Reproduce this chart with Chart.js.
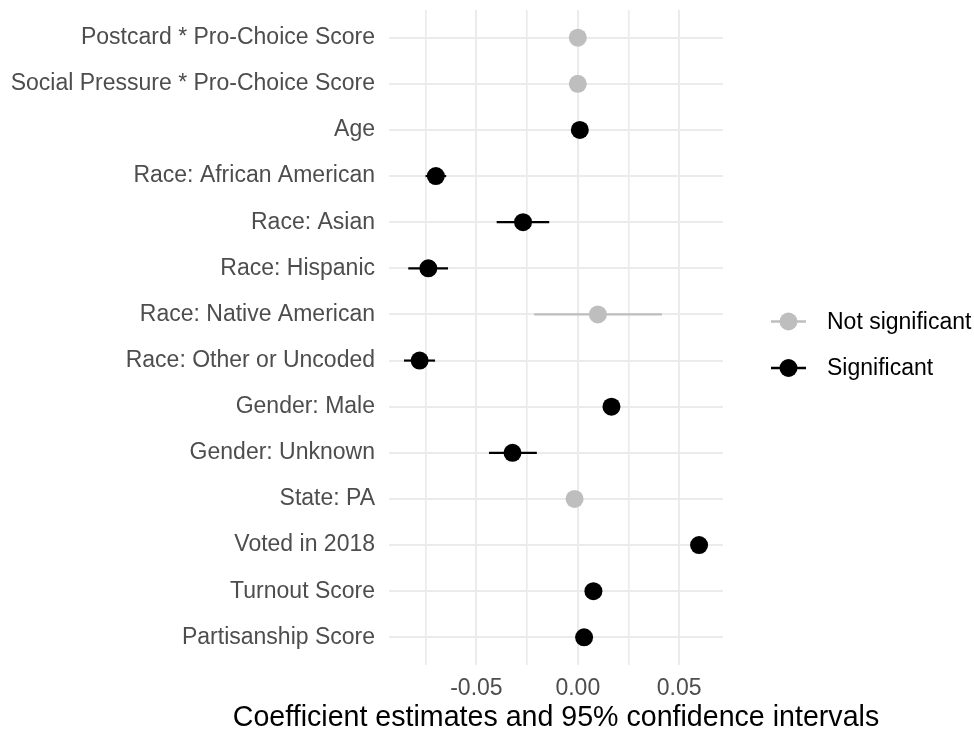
<!DOCTYPE html>
<html>
<head>
<meta charset="utf-8">
<script src="https://cdn.jsdelivr.net/npm/chart.js@4/dist/chart.umd.min.js"></script>
<style>
  html, body { margin: 0; padding: 0; background: #ffffff; }
  #wrap { width: 974px; height: 731px; position: relative; }
</style>
</head>
<body>
<div id="wrap"><canvas id="coefPlot" width="974" height="731"></canvas></div>
<script>
// Model terms, top to bottom
const terms = [
  'Postcard * Pro-Choice Score',
  'Social Pressure * Pro-Choice Score',
  'Age',
  'Race: African American',
  'Race: Asian',
  'Race: Hispanic',
  'Race: Native American',
  'Race: Other or Uncoded',
  'Gender: Male',
  'Gender: Unknown',
  'State: PA',
  'Voted in 2018',
  'Turnout Score',
  'Partisanship Score'
];
// Point estimates
const estimates = [0.000, 0.000, 0.001, -0.070, -0.027, -0.0737, 0.0099, -0.078, 0.0166, -0.0322, -0.0016, 0.0598, 0.0077, 0.0031];
// 95% confidence bounds
const ciLow  = [-0.002, -0.002, 0.000, -0.0751, -0.0400, -0.0836, -0.0215, -0.0857, 0.0140, -0.0438, -0.0045, 0.0570, 0.0055, 0.0010];
const ciHigh = [ 0.002,  0.002, 0.002, -0.0649, -0.0141, -0.0640,  0.0415, -0.0704, 0.0192, -0.0202,  0.0013, 0.0626, 0.0099, 0.0052];
// Whether the interval excludes zero
const significant = [false, false, true, true, true, true, false, true, true, true, false, true, true, true];

// Axis ticks
const xMajorTicks = [-0.05, 0, 0.05];
const xMajorLabels = ['-0.05', '0.00', '0.05'];
const xMinorTicks = [-0.075, -0.025, 0.025];
const seriesNames = ['Not significant', 'Significant'];
const xAxisTitle = 'Coefficient estimates and 95% confidence intervals';

const GREY = '#bebebe';
const BLACK = '#000000';
const FONT = "'Liberation Sans', Arial, Helvetica, sans-serif";

function pointsFor(flag) {
  const pts = [];
  terms.forEach((t, i) => {
    if (significant[i] === flag) pts.push({ x: estimates[i], y: i, lo: ciLow[i], hi: ciHigh[i] });
  });
  return pts;
}

// Horizontal interval segments drawn beneath the points
const intervalPlugin = {
  id: 'intervals',
  beforeDatasetsDraw(chart) {
    const { ctx, scales: { x, y } } = chart;
    ctx.save();
    chart.data.datasets.forEach(ds => {
      ctx.strokeStyle = ds.backgroundColor;
      ctx.lineWidth = 2.2;
      ds.data.forEach(p => {
        const py = y.getPixelForValue(p.y);
        ctx.beginPath();
        ctx.moveTo(x.getPixelForValue(p.lo), py);
        ctx.lineTo(x.getPixelForValue(p.hi), py);
        ctx.stroke();
      });
    });
    ctx.restore();
  }
};

// Legend with line-through-point keys, to the right of the panel
const keyLegendPlugin = {
  id: 'keyLegend',
  afterDraw(chart, args, opts) {
    const { ctx } = chart;
    ctx.save();
    chart.data.datasets.forEach((ds, k) => {
      const cy = opts.top + k * opts.gap;
      ctx.strokeStyle = ds.backgroundColor;
      ctx.fillStyle = ds.backgroundColor;
      ctx.lineWidth = 2.4;
      ctx.beginPath();
      ctx.moveTo(opts.left, cy);
      ctx.lineTo(opts.left + opts.keyWidth, cy);
      ctx.stroke();
      ctx.beginPath();
      ctx.arc(opts.left + opts.keyWidth / 2, cy, 9, 0, Math.PI * 2);
      ctx.fill();
      ctx.fillStyle = '#000000';
      ctx.font = '23px ' + FONT;
      ctx.textAlign = 'left';
      ctx.textBaseline = 'middle';
      ctx.fillText(ds.label, opts.textLeft, cy + 1);
    });
    ctx.restore();
  }
};

// Axis title centred under the panel, allowed to run wider than it
const wideTitlePlugin = {
  id: 'wideTitle',
  afterDraw(chart, args, opts) {
    const { ctx, chartArea } = chart;
    ctx.save();
    ctx.fillStyle = '#000000';
    ctx.font = '28.6px ' + FONT;
    ctx.textAlign = 'center';
    ctx.textBaseline = 'middle';
    ctx.fillText(opts.text, (chartArea.left + chartArea.right) / 2, opts.y);
    ctx.restore();
  }
};

const isMajor = v => xMajorTicks.some(m => Math.abs(m - v) < 1e-9);

new Chart(document.getElementById('coefPlot'), {
  type: 'scatter',
  data: {
    datasets: [
      { label: seriesNames[0], data: pointsFor(false), backgroundColor: GREY, borderColor: GREY, pointRadius: 9, pointHoverRadius: 9, borderWidth: 0 },
      { label: seriesNames[1], data: pointsFor(true), backgroundColor: BLACK, borderColor: BLACK, pointRadius: 9, pointHoverRadius: 9, borderWidth: 0 }
    ]
  },
  options: {
    responsive: false,
    animation: false,
    layout: { padding: { top: 10, right: 251, bottom: 0, left: 0 } },
    plugins: {
      legend: { display: false },
      tooltip: { enabled: false },
      keyLegend: { left: 771, keyWidth: 35, top: 321.5, gap: 46.5, textLeft: 827 },
      wideTitle: { text: xAxisTitle, y: 718 }
    },
    scales: {
      x: {
        type: 'linear',
        min: -0.0931,
        max: 0.0716,
        afterBuildTicks: s => { s.ticks = xMinorTicks.concat(xMajorTicks).sort((a, b) => a - b).map(v => ({ value: v })); },
        afterFit: s => { s.height = 66; s.paddingLeft = 0; s.paddingRight = 0; },
        border: { display: false },
        grid: {
          color: '#ebebeb',
          lineWidth: c => (c.tick && isMajor(c.tick.value)) ? 2 : 1.7,
          drawTicks: false
        },
        ticks: {
          autoSkip: false,
          maxRotation: 0,
          padding: 10,
          color: '#4d4d4d',
          font: { family: FONT, size: 23 },
          callback: v => {
            const i = xMajorTicks.findIndex(m => Math.abs(m - v) < 1e-9);
            return i >= 0 ? xMajorLabels[i] : '';
          }
        }
      },
      y: {
        type: 'linear',
        reverse: true,
        min: -0.6,
        max: terms.length - 1 + 0.6,
        afterBuildTicks: s => { s.ticks = terms.map((t, i) => ({ value: i })); },
        afterFit: s => { s.width = 389; s.paddingTop = 0; s.paddingBottom = 0; },
        border: { display: false },
        grid: { color: '#ebebeb', lineWidth: 2, drawTicks: false },
        ticks: {
          autoSkip: false,
          padding: 14,
          color: '#4d4d4d',
          font: { family: FONT, size: 23 },
          callback: v => terms[v]
        }
      }
    }
  },
  plugins: [intervalPlugin, keyLegendPlugin, wideTitlePlugin]
});
</script>
</body>
</html>
